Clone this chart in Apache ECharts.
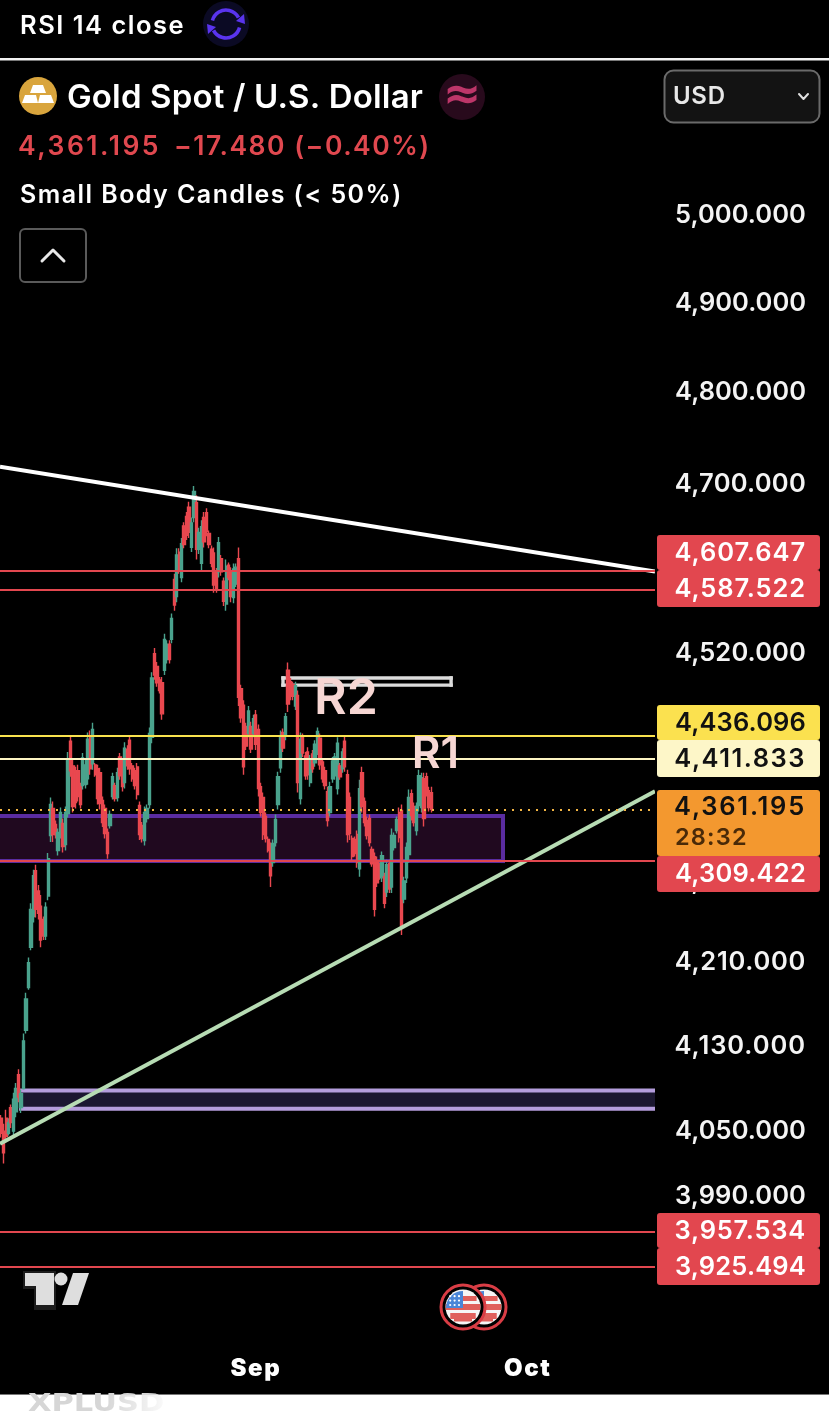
<!DOCTYPE html>
<html><head><meta charset="utf-8">
<style>html,body{margin:0;padding:0;background:#000}#c{width:829px;height:1417px}</style>
<script src="https://cdn.jsdelivr.net/npm/echarts@6/dist/echarts.min.js"></script>
</head><body><div id="c"></div>
<script>
const opens=[4062,4050,4062,4048,4072,4050,4068,4103,4072,4090,4145,4186,4225,4255,4300,4280,4265,4252,4236,4275,
4335,4362,4346,4320,4337,4347,4326,4357,4430,4405,4398,4400,4384,4385,4386,4392,4435,4407,4406,4402,
4398,4370,4362,4338,4345,4374,4385,4373,4414,4406,4388,4422,4431,4405,4400,4404,4365,4345,4330,4352,
4366,4434,4520,4507,4493,4490,4503,4514,4530,4535,4598,4580,4627,4600,4655,4665,4675,4632,4664,4680,
4630,4615,4664,4669,4647,4630,4626,4606,4606,4620,4596,4572,4613,4606,4579,4593,4620,4484,4467,4445,
4438,4445,4438,4457,4442,4384,4373,4354,4331,4324,4308,4328,4366,4403,4439,4435,4503,4491,4488,4466,
4477,4372,4434,4415,4419,4388,4417,4408,4420,4433,4409,4400,4379,4358,4392,4395,4382,4405,4402,4430,
4396,4373,4332,4331,4336,4302,4398,4369,4350,4352,4321,4314,4310,4305,4293,4294,4279,4307,4284,4323,
4340,4358,4360,4272,4293,4316,4377,4364,4340,4365,4363,4392,4394,4380,4378];
const closes=[4048,4030,4045,4058,4058,4080,4090,4082,4085,4135,4175,4210,4262,4295,4262,4258,4232,4236,4264,4312,
4366,4336,4336,4338,4358,4324,4358,4412,4400,4364,4368,4374,4366,4413,4406,4432,4402,4442,4396,4372,
4367,4348,4337,4317,4356,4394,4372,4398,4395,4384,4423,4405,4402,4392,4385,4376,4336,4332,4358,4362,
4438,4495,4498,4490,4482,4458,4535,4530,4514,4557,4571,4624,4608,4636,4635,4645,4648,4658,4692,4630,
4648,4654,4638,4649,4635,4615,4592,4588,4637,4606,4575,4612,4600,4580,4609,4611,4475,4454,4404,4425,
4461,4422,4453,4427,4382,4358,4336,4332,4320,4295,4327,4351,4394,4435,4423,4455,4468,4476,4476,4487,
4388,4432,4418,4395,4396,4411,4402,4427,4440,4406,4392,4385,4350,4384,4410,4414,4428,4394,4419,4404,
4336,4337,4314,4317,4308,4382,4364,4348,4335,4328,4307,4262,4288,4294,4315,4268,4306,4282,4335,4335,
4351,4333,4245,4290,4323,4373,4355,4348,4364,4395,4393,4352,4378,4363,4361.195];
const lows=[4044,4020,4039,4046,4053,4044,4063,4077,4067,4089,4142,4184,4222,4249,4254,4252,4225,4232,4232,4271,
4328.5,4328.5,4332,4315,4332,4318,4320,4353,4394,4358,4362,4369,4362,4381,4382,4386,4396,4401,4394,4366,
4361,4343.5,4332,4312,4342,4371,4369,4369,4391,4379,4382,4401,4396,4389,4381,4371,4330.5,4328,4325,4348,
4362,4428,4493,4486,4479,4452,4498,4510,4510,4531,4565,4574,4604,4595,4631,4640,4642,4627,4659,4619,
4625,4608,4632,4644,4631,4611,4584,4584,4600,4602,4570,4565,4597,4574,4573,4590,4466,4449,4396,4421,
4434,4418,4434,4421,4374,4354,4330.5,4328,4318,4284,4304,4324,4361,4398,4419,4431,4460,4472,4472,4462,
4378,4366,4414,4391,4391,4384,4398,4404,4416,4401,4388,4381,4344,4354,4388,4391,4376,4391,4398,4399,
4328,4330.5,4310.5,4314,4303,4294,4358,4344,4331,4324,4304,4255,4284,4291,4289,4263,4274,4278,4278,4320,
4337,4328,4237,4268,4288,4308,4350,4344,4335,4359,4358,4344,4374,4359,4358];
const highs=[4065,4057,4070,4062,4075,4086,4095,4108,4089,4142,4181,4215,4268,4301,4306,4286,4276,4255,4269,4317.5,
4373,4369,4350,4342,4363,4352,4364,4419,4436,4411,4404,4406,4388,4418,4411,4439,4441,4449,4408,4406,
4403,4374,4366,4342,4360,4398,4388,4403,4418,4411,4429,4426,4436,4408,4403,4408,4369,4348.5,4364,4366,
4444,4501,4526,4511.5,4496,4496,4541,4534,4534,4562,4604,4631,4631,4642,4659,4670,4681,4664,4698,4688,
4653,4661,4670,4674,4650,4634,4632,4610,4643,4624,4600,4619,4616,4611,4615,4615,4632,4488,4472,4449,
4466,4450,4457,4462,4447,4388,4378,4358,4334,4328,4331,4356,4399,4441,4443,4459,4511,4495,4491,4491,
4482,4439,4438,4419,4424,4416,4421,4431,4444,4438,4413,4404,4384,4389,4414,4418,4434,4408,4423,4435,
4401,4378,4335,4334,4340,4391,4404,4373,4354,4356,4324,4318,4314,4308,4319,4298,4311,4311,4342,4338,
4354,4363,4366,4294,4328,4381,4381,4368,4368,4401,4398,4398,4398,4384,4384];

const yTicks=[5000,4900,4800,4700,4520,4290,4210,4130,4050,3990];
const redLevels=[4607.647,4587.522,4309.422,3957.534,3925.494];
const yellowLevel=4436.096, creamLevel=4411.833, lastPrice=4361.195;
const whiteTrend=[4718.5,4606.7];
const greenTrend=[4039,4378.6];
// boxes: first bar, last bar, top price, bottom price
const purpleBox=[0,203,4354.5,4309.6];
const lavenderBox=[8,264,4088,4071];
const r2Box=[114,182,4495,4487.6];
const BAR_COUNT=265;
const monthTicks={'2025-09-01 00':'Sep','2025-10-01 00':'Oct'};

// tracking of the app's UI font, per text
(function(){
  const P=CanvasRenderingContext2D.prototype,ft=P.fillText;
  const sp={'RSI 14 close':1.5,'Small Body Candles (< 50%)':1.45,'Sep':1.6,'Oct':1.6,'Gold Spot / U.S. Dollar':0.15,'USD':0.7,
            '4,361.195 ':2.5,'−17.480 (−0.40%)':1.5,'28:32':1.2};
  P.fillText=function(t,x,y,m){
    if(!('letterSpacing' in this)) return ft.call(this,t,x,y);
    this.letterSpacing='0px';
    let s=sp[t]!==undefined?sp[t]:0;
    if(/^\d,\d{3}\.\d{3}$/.test(t)) s=(131-this.measureText(t).width)/8.5;
    this.letterSpacing=s+'px';
    return m===undefined?ft.call(this,t,x,y):ft.call(this,t,x,y,m);
  };
})();

const categories=[];
for(let t=Date.UTC(2025,7,1);categories.length<BAR_COUNT;t+=864e5){
  const d=new Date(t); if(d.getUTCDay()%6===0) continue;
  const day=d.toISOString().slice(0,10);
  for(const h of ['00','05','10','14','19']){
    if(day==='2025-08-01'&&(h==='00'||h==='05')) continue;
    if(categories.length<BAR_COUNT) categories.push(day+' '+h);
  }
}
const fmt=v=>Number(v).toLocaleString('en-US',{minimumFractionDigits:3,maximumFractionDigits:3});
const GREEN='#4aa38d',RED='#e9484f';
const F='Inter, "Noto Sans", sans-serif';
const candleData=opens.map((o,i)=>[o,closes[i],lows[i],highs[i]]);
const boxStyle=[
 {fill:'#20091f',edge:'#5a2ca0',w:4,sides:'tbr'},
 {fill:'#1b1730',edge:'#b49ddc',w:4,sides:'tb'},
 {fill:'#000',edge:'#dcdcdc',w:3.4,sides:'tblr'}
];
function renderBox(params,api){
  const s=boxStyle[params.dataIndex],cs=params.coordSys;
  const a=api.coord([api.value(0),api.value(2)]),b=api.coord([api.value(1),api.value(3)]);
  let x0=a[0],x1=b[0];
  if(api.value(0)===0) x0=cs.x-8;
  if(api.value(1)===BAR_COUNT-1) x1=cs.x+cs.width;
  const y0=a[1],y1=b[1],ln=(x,y,x2,y2)=>({type:'line',shape:{x1:x,y1:y,x2:x2,y2:y2},style:{stroke:s.edge,lineWidth:s.w,lineCap:'square'}});
  const kids=[{type:'rect',shape:{x:x0,y:y0,width:x1-x0,height:y1-y0},style:{fill:s.fill}}];
  if(s.sides.includes('t')) kids.push(ln(x0,y0,x1,y0));
  if(s.sides.includes('b')) kids.push(ln(x0,y1,x1,y1));
  if(s.sides.includes('l')) kids.push(ln(x0,y0,x0,y1));
  if(s.sides.includes('r')) kids.push(ln(x1,y0,x1,y1));
  return {type:'group',children:kids};
}
const trendColor=['#ffffff','#b7dcb4'];
function renderTrend(params,api){
  const cs=params.coordSys;
  const a=api.coord([api.value(0),api.value(1)]),b=api.coord([api.value(2),api.value(3)]);
  const k=(b[1]-a[1])/(b[0]-a[0]),xl=cs.x,xr=cs.x+cs.width;
  return {type:'line',shape:{x1:xl,y1:a[1]+k*(xl-a[0]),x2:xr,y2:a[1]+k*(xr-a[0])},style:{stroke:trendColor[params.dataIndex],lineWidth:4}};
}
const hLine=(v,c,w,type)=>({yAxis:v,lineStyle:{color:c,width:w,type:type||'solid'}});

/* ---- interface decorations ---- */
const g=[];
const txt=(t,x,y,font,fill,align,z)=>g.push({type:'text',z:z||20,style:{text:t,x,y,font:font,fill:fill,textAlign:align||'left',textVerticalAlign:'middle'}});
const rect=(x,y,w,h,fill,stroke,r,lw,z)=>g.push({type:'rect',z:z||15,shape:{x,y,width:w,height:h,r:r||0},style:{fill:fill,stroke:stroke||null,lineWidth:lw||0}});
const circ=(cx,cy,r,fill,stroke,lw,z)=>g.push({type:'circle',z:z||15,shape:{cx,cy,r},style:{fill:fill,stroke:stroke||null,lineWidth:lw||0}});
const poly=(pts,fill,z)=>g.push({type:'polygon',z:z||16,shape:{points:pts},style:{fill:fill}});
const pline=(pts,stroke,lw,z)=>g.push({type:'polyline',z:z||16,shape:{points:pts},style:{stroke:stroke,lineWidth:lw,fill:null,lineCap:'round',lineJoin:'round'}});

// header
rect(0,0,829,59,'#000');
rect(0,58,829,2.4,'#f2f2f2');
txt('RSI 14 close',20,26,'600 25.5px '+F,'#fff');
circ(226,24,23,'#0b0a24');
const arc=(a,b)=>g.push({type:'arc',z:16,shape:{cx:226,cy:24,r:14,startAngle:a,endAngle:b,clockwise:true},style:{stroke:'#5a34ee',lineWidth:3.6,fill:null}});
arc(Math.PI*1.08,Math.PI*1.85);arc(Math.PI*0.08,Math.PI*0.85);
poly([[236,21],[244,14],[245,24]],'#5a34ee');poly([[216,27],[208,34],[207,24]],'#5a34ee');
circ(38,96,19,'#d9a53d');
poly([[33,85],[43,85],[46,93],[30,93]],'#fff');poly([[25,95],[36,95],[38,103],[22,103]],'#fff');poly([[40,95],[51,95],[54,103],[38,103]],'#fff');
txt('Gold Spot / U.S. Dollar',67,98,'600 33px '+F,'#fff');
circ(462,97,23,'#280a1c');
txt('≈',462,97,'700 46px "DejaVu Sans"','#bd3669','center');
rect(664.5,70.5,155,52,'#131313','#6a6a6a',9,2);
txt('USD',673,97,'600 24px '+F,'#e8e8e8');
pline([[799,94],[803.5,99],[808,94]],'#e0e0e0',2);
txt('4,361.195 ',18,147,'600 26.5px '+F,'#e0484f');
txt('−17.480 (−0.40%)',174,147,'600 26.5px '+F,'#e0484f');
txt('Small Body Candles (< 50%)',20,195,'600 25px '+F,'#fff');
rect(20,229,66,53,'#000','#5a5a5a',5,2);
pline([[42,261],[53,250],[64,261]],'#e8e8e8',3);

// annotations
txt('R2',346,699,'600 50px '+F,'#f6d6d3','center',12);
txt('R1',435.5,755,'600 44px '+F,'#f6d6d3','center',12);

// price tags
const tags=[
 [redLevels[0],535,570,'#e2474f','#fff'],
 [redLevels[1],570,607,'#e2474f','#fff'],
 [yellowLevel,705,740,'#fbe14f','#111'],
 [creamLevel,740,777,'#fdf6c8','#111'],
 [lastPrice,790,856,'#f3982f','#111'],
 [redLevels[2],856,892,'#e2474f','#fff'],
 [redLevels[3],1213,1248,'#e2474f','#fff'],
 [redLevels[4],1248,1285,'#e2474f','#fff']
];
tags.forEach(t=>{
  rect(657,t[1],163,t[2]-t[1],t[3],null,3,0,15);
  const isLast=t[0]===lastPrice;
  txt(fmt(t[0]),806,isLast?807:(t[1]+t[2])/2+0.5,'600 25.5px '+F,t[4],'right',20);
  if(isLast) txt('28:32',675,838,'600 23.5px '+F,'#4a2a08','left',20);
});

// TradingView mark
poly([[23,1271],[56,1271],[56,1310],[34,1310],[34,1289],[23,1289]],'#1c1c1c',14);
poly([[25,1273],[54,1273],[54,1305],[36,1305],[36,1286],[25,1286]],'#dedede');
circ(61,1279,6.5,'#dedede',null,0,16);
poly([[73,1273],[89,1273],[78,1305],[62,1305]],'#dedede');

// news flags
const hw0=9;
function flag(cx,cy,z){
  circ(cx,cy,22,'#000','#d93d45',3,z);
  circ(cx,cy,17.5,'#f6f6f6',null,0,z+1);
  [-11,-3,6].forEach((dy,i)=>{const h=[5,6,6][i],d=Math.max(Math.abs(dy),Math.abs(dy+h));const hw=Math.sqrt(Math.max(0,17.5*17.5-d*d));
    rect(cx-hw,cy+dy,hw*2,h,'#e0605c',null,0,0,z+2);});
  rect(cx-hw0,cy+12,hw0*2,2.5,'#e0605c',null,0,0,z+2);
  g.push({type:'sector',z:z+3,shape:{cx,cy:cy+1,r:17,r0:0,startAngle:Math.PI,endAngle:Math.PI*1.5},style:{fill:'#4a86d8'}});
  for(let i=0;i<3;i++)for(let j=0;j<3;j++) circ(cx-4-j*4.4,cy-2-i*4.4,1.1,'#fff',null,0,z+4);
}
flag(484,1307,16);
flag(463,1307,22);

// footer
rect(0,1395,829,22,'#fff',null,0,0,15);
rect(0,1394,829,1,'#777',null,0,0,15);
g.push({type:'text',z:16,x:28,y:1405,scaleX:1.27,style:{text:'XPLUSD',x:0,y:0,font:'700 24px "DejaVu Sans"',fill:'#d6d6d6',textVerticalAlign:'middle'}});
g.push({type:'rect',z:17,shape:{x:105,y:1395,width:65,height:22},style:{fill:{type:'linear',x:0,y:0,x2:1,y2:0,colorStops:[{offset:0,color:'rgba(255,255,255,0)'},{offset:1,color:'rgba(255,255,255,0.95)'}]}}});

const chart=echarts.init(document.getElementById('c'),null,{renderer:'canvas',width:829,height:1417});
chart.setOption({
  animation:false,backgroundColor:'#000',
  grid:{left:0,top:60,width:655,height:1265,containLabel:false},
  xAxis:{type:'category',data:categories,boundaryGap:true,axisLine:{show:false},axisTick:{show:false},splitLine:{show:false},
    axisLabel:{interval:(i,v)=>v in monthTicks,formatter:v=>monthTicks[v]||'',color:'#fff',fontFamily:F,fontWeight:900,fontSize:24,margin:32,hideOverlap:false}},
  yAxis:{type:'log',logBase:10,position:'right',min:3873.4,max:5181.5,scale:true,axisLine:{show:false},axisTick:{show:false},splitLine:{show:false},minorTick:{show:false},
    axisLabel:{customValues:yTicks,formatter:v=>fmt(v),color:'#f4f4f4',fontFamily:F,fontWeight:600,fontSize:25.5,align:'right',margin:151,verticalAlign:'middle',padding:[0,0,4,0],showMinLabel:true,showMaxLabel:true,hideOverlap:false}},
  series:[
    {type:'custom',z:1,clip:true,silent:true,coordinateSystem:'cartesian2d',renderItem:renderBox,encode:{x:[0,1],y:[2,3]},data:[purpleBox,lavenderBox,r2Box]},
    {type:'candlestick',z:2,data:candleData,barWidth:2.8,clip:true,silent:true,itemStyle:{color:GREEN,color0:RED,borderColor:GREEN,borderColor0:RED,borderWidth:1.4}},
    {type:'line',z:3,data:[],silent:true,markLine:{silent:true,symbol:'none',animation:false,label:{show:false},
      data:[hLine(lastPrice,'#f2b544',2,[2,6]),...redLevels.map(v=>hLine(v,'#e2474f',2)),hLine(yellowLevel,'#f9e24e',2),hLine(creamLevel,'#fdf5c3',2)]}},
    {type:'custom',z:4,clip:true,silent:true,coordinateSystem:'cartesian2d',renderItem:renderTrend,encode:{x:[0,2],y:[1,3]},
      data:[[0,whiteTrend[0],BAR_COUNT-1,whiteTrend[1]],[0,greenTrend[0],BAR_COUNT-1,greenTrend[1]]]}
  ],
  graphic:{elements:g}
});
</script></body></html>
